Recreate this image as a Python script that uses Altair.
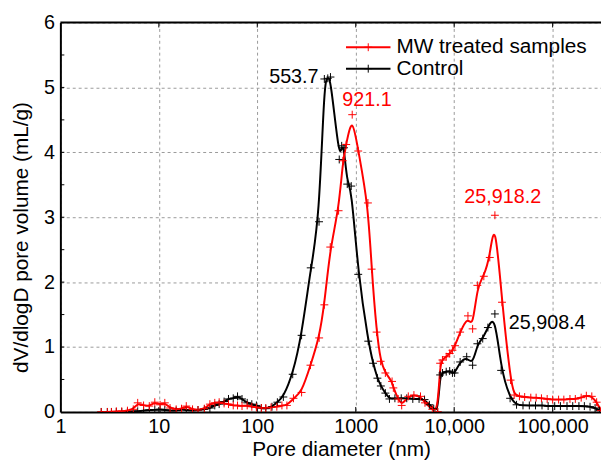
import altair as alt
import pandas as pd

# ---------------- data ----------------
mw_d = [2.6, 3.0, 3.3, 3.7, 4.2, 4.8, 5.5, 6.1, 7.0, 8.0,
        9.1, 10.3, 11.5, 13, 15, 17, 19, 22, 25, 29,
        33, 37, 41, 46, 51, 57, 63, 70, 79, 88,
        98, 110, 122, 138, 158, 178, 200, 233, 282, 347,
        425, 480, 551, 670, 740, 800, 921.1, 1060, 1330, 1450,
        1630, 1790, 2000, 2340, 2410, 2700, 2930, 3420, 3900, 4550,
        5050, 6000, 6800, 7200, 7600, 8300, 9000, 9600, 10200, 11500,
        13800, 15400, 17200, 20000, 23000, 25918.2, 30600, 37400, 40700, 46000,
        52000, 60000, 68000, 77000, 88000, 100000, 115000, 130000, 150000, 170000,
        195000, 220000, 250000, 280000, 310000]
mw_v = [0, 0, 0, 0.01, 0.01, 0.02, 0.04, 0.14, 0.10, 0.09,
        0.15, 0.11, 0.14, 0.06, 0.04, 0.05, 0.09, 0.04, 0.03, 0.05,
        0.12, 0.14, 0.15, 0.13, 0.12, 0.10, 0.10, 0.09, 0.10, 0.08,
        0.07, 0.06, 0.06, 0.07, 0.08, 0.10, 0.10, 0.21, 0.30, 0.72,
        1.14, 1.65, 2.54, 3.10, 3.87, 4.12, 4.58, 4.02, 3.22, 2.20,
        1.23, 0.78, 0.60, 0.47, 0.37, 0.20, 0.10, 0.24, 0.26, 0.24,
        0.14, 0.04, 0.00, 0.75, 0.80, 0.85, 0.90, 0.95, 1.02, 1.23,
        1.48, 1.28, 1.95, 2.09, 2.38, 3.03, 1.69, 0.49, 0.26, 0.24,
        0.23, 0.22, 0.22, 0.21, 0.20, 0.19, 0.19, 0.19, 0.20, 0.20,
        0.22, 0.25, 0.24, 0.15, 0.02]

ct_d = [2.6, 3.0, 3.3, 3.7, 4.2, 4.8, 5.5, 6.1, 7.0, 8.0,
        9.1, 10.3, 11.5, 13, 15, 17, 19, 22, 25, 29,
        33, 37, 41, 46, 51, 57, 63, 70, 79, 88,
        98, 110, 122, 141, 160, 184, 229, 282, 349, 424,
        480, 520, 553.7, 680, 720, 760, 820, 900, 1060, 1340,
        1500, 1660, 1800, 2000, 2200, 2500, 2900, 3300, 3800, 4400,
        5000, 5600, 6200, 6800, 7200, 7600, 8300, 9000, 9600, 10100,
        11500, 13400, 15400, 17200, 19500, 22000, 25908.4, 30000, 37000, 43000,
        50000, 58000, 67000, 78000, 90000, 105000, 120000, 140000, 160000, 185000,
        210000, 240000, 270000, 300000]
ct_v = [0, 0, 0, 0, 0, 0, 0.01, 0.01, 0.02, 0.03,
        0.03, 0.04, 0.03, 0.02, 0.02, 0.04, 0.03, 0.02, 0.03, 0.04,
        0.06, 0.10, 0.12, 0.16, 0.20, 0.21, 0.24, 0.20, 0.14, 0.12,
        0.10, 0.06, 0.05, 0.08, 0.15, 0.23, 0.58, 1.18, 2.22, 2.93,
        5.13, 5.14, 5.16, 3.89, 4.10, 4.07, 3.51, 3.48, 2.12, 1.09,
        0.75, 0.52, 0.40, 0.29, 0.20, 0.21, 0.21, 0.21, 0.20, 0.20,
        0.19, 0.11, 0.05, 0.00, 0.57, 0.60, 0.62, 0.63, 0.60, 0.60,
        0.77, 0.85, 0.72, 1.05, 1.13, 1.30, 1.51, 0.64, 0.21, 0.11,
        0.10, 0.10, 0.10, 0.10, 0.09, 0.09, 0.09, 0.09, 0.09, 0.09,
        0.09, 0.08, 0.06, 0.02]

series_names = ["MW treated samples", "Control"]
series_colors = ["#ff0000", "#000000"]

x_tick_values = [1, 10, 100, 1000, 10000, 100000]
x_tick_labels = ["1", "10", "100", "1000", "10,000", "100,000"]
y_tick_values = [0, 1, 2, 3, 4, 5, 6]
y_minor_ticks = [0.5, 1, 1.5, 2, 2.5, 3, 3.5, 4, 4.5, 5, 5.5]

peak_labels = ["553.7", "921.1", "25,918.2", "25,908.4"]
peak_d = [553.7, 921.1, 25918.2, 25908.4]
peak_v = [5.16, 4.58, 3.03, 1.51]
peak_series = ["Control", "MW treated samples", "MW treated samples", "Control"]

# ---------------- chart ----------------
FONT = "Liberation Sans"
W, H = 547, 394
PLUS = "M-1,0H1M0,-1V1"
color_of = dict(zip(series_names, series_colors))

x_scale = alt.Scale(type="log", domain=[1, 310000], nice=False)
y_scale = alt.Scale(domain=[0, 6], nice=False, zero=False)

label_expr = "".join(
    f"datum.value == {v} ? '{l}' : " for v, l in zip(x_tick_values, x_tick_labels)
) + "''"

x_axis = alt.Axis(
    values=x_tick_values, labelExpr=label_expr, title="Pore diameter (nm)",
    grid=True, gridDash=[3, 3], gridColor="#9a9a9a", gridWidth=1,
    ticks=False, tickSize=0, domainColor="black", domainWidth=2,
    labelFont=FONT, labelFontSize=20, labelColor="black", labelPadding=5,
    labelFlush=False, labelOverlap=False,
    titleFont=FONT, titleFontSize=21, titleFontWeight="normal", titleColor="black",
    titleX=284, titleY=38, titleBaseline="middle", titleAlign="center",
)
y_axis = alt.Axis(
    values=y_tick_values, title="dV/dlogD pore volume (mL/g)", format="d",
    grid=True, gridDash=[3, 3], gridColor="#9a9a9a", gridWidth=1,
    ticks=False, tickSize=0, domainColor="black", domainWidth=2,
    labelFont=FONT, labelFontSize=20, labelColor="black", labelPadding=6,
    labelFlush=False,
    titleFont=FONT, titleFontSize=21, titleFontWeight="normal", titleColor="black",
    titleX=-39, titleY=217, titleAngle=270, titleBaseline="middle", titleAlign="center",
)

X = alt.X("d:Q", scale=x_scale, axis=x_axis, title="Pore diameter (nm)")
Y = alt.Y("v:Q", scale=y_scale, axis=y_axis, title="dV/dlogD pore volume (mL/g)")

mw = pd.DataFrame({"d": mw_d, "v": mw_v, "series": series_names[0]})
ct = pd.DataFrame({"d": ct_d, "v": ct_v, "series": series_names[1]})


def curve(df, color):
    line = alt.Chart(df).mark_line(interpolate="basis", strokeWidth=2, color=color,
                                   clip=True).encode(x=X, y=Y)
    pts = alt.Chart(df).mark_point(shape=PLUS, filled=False, size=64, strokeWidth=1,
                                   color=color, opacity=1, clip=True).encode(x=X, y=Y)
    return line, pts


ct_line, ct_pts = curve(ct, color_of["Control"])
mw_line, mw_pts = curve(mw, color_of["MW treated samples"])

# inward ticks and top frame
one = pd.DataFrame({"k": [0]})
ytick_df = pd.DataFrame({"v": y_minor_ticks})
xtick_df = pd.DataFrame({"d": x_tick_values[1:]})
yticks = alt.Chart(ytick_df).mark_rule(color="black", strokeWidth=1).encode(
    y=Y, x=alt.value(0), x2=alt.value(4))
top_ticks = alt.Chart(xtick_df).mark_rule(color="black", strokeWidth=1).encode(
    x=X, y=alt.value(0), y2=alt.value(5))
bot_ticks = alt.Chart(xtick_df).mark_rule(color="black", strokeWidth=1).encode(
    x=X, y=alt.value(H), y2=alt.value(H - 5))
top_border = alt.Chart(one).mark_rule(color="black", strokeWidth=2).encode(
    x=alt.value(0), x2=alt.value(W), y=alt.value(0))

# peak annotations
ann_style = [
    dict(align="right", dx=-12, dy=0),
    dict(align="center", dx=15, dy=-15),
    dict(align="center", dx=8, dy=-18),
    dict(align="left", dx=14, dy=9),
]
anns = []
for lab, d, v, s, st in zip(peak_labels, peak_d, peak_v, peak_series, ann_style):
    df = pd.DataFrame({"d": [d], "v": [v], "t": [lab]})
    anns.append(alt.Chart(df).mark_text(font=FONT, fontSize=20, baseline="middle",
                                        color=color_of[s], **st).encode(
        x=X, y=Y, text="t:N"))

# legend
leg = []
for i, (name, col) in enumerate(zip(series_names, series_colors)):
    yy = 25 + 21.7 * i
    ldf = pd.DataFrame({"t": [name]})
    leg.append(alt.Chart(ldf).mark_rule(color=col, strokeWidth=2).encode(
        x=alt.value(289), x2=alt.value(334), y=alt.value(yy)))
    leg.append(alt.Chart(ldf).mark_point(shape=PLUS, filled=False, size=64, strokeWidth=1,
                                         color=col, opacity=1).encode(
        x=alt.value(311.5), y=alt.value(yy)))
    leg.append(alt.Chart(ldf).mark_text(font=FONT, fontSize=21, align="left", baseline="middle",
                                        color="black").encode(
        x=alt.value(340), y=alt.value(yy), text="t:N"))

chart = alt.layer(
    ct_line, yticks, top_ticks, bot_ticks, top_border,
    mw_line, ct_pts, mw_pts, *anns, *leg
).properties(
    width=W, height=H,
    padding={"left": 53, "top": 12, "right": 0, "bottom": 50},
    autosize=alt.AutoSizeParams(type="none"),
).configure_view(stroke=None).configure(background="white")

chart.save("out.html", embed_options={"renderer": "svg", "actions": False})
